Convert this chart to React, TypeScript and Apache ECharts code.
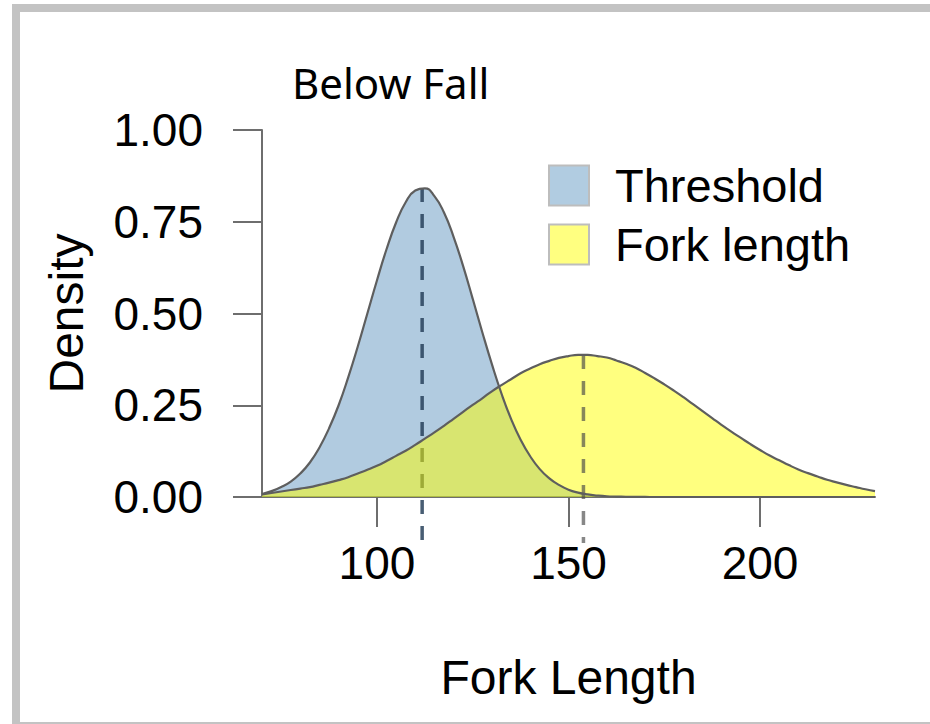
import React, { useEffect, useRef } from "react";
import * as echarts from "echarts";

const titleText = "Below Fall";
const xName = "Fork Length";
const yName = "Density";
const seriesNames = ["Threshold", "Fork length"];

const xValues = [
  70, 72.5, 75, 77.5, 80, 82.5, 85, 87.5, 90, 92.5, 95, 97.5, 100, 102.5, 105, 107.5,
  110, 112.5, 115, 117.5, 120, 122.5, 125, 127.5, 130, 132.5, 135, 137.5, 140, 142.5,
  145, 147.5, 150, 152.5, 155, 157.5, 160, 162.5, 165, 167.5, 170, 172.5, 175, 177.5,
  180, 182.5, 185, 187.5, 190, 192.5, 195, 197.5, 200, 202.5, 205, 207.5, 210, 212.5,
  215, 217.5, 220, 222.5, 225, 227.5, 230,
];

const thresholdValues = [
  0.008, 0.016, 0.027, 0.042, 0.064, 0.094, 0.135, 0.187, 0.25, 0.326, 0.41, 0.5,
  0.59, 0.675, 0.748, 0.803, 0.835, 0.841, 0.82, 0.775, 0.709, 0.629, 0.54, 0.449,
  0.362, 0.282, 0.213, 0.156, 0.111, 0.076, 0.051, 0.033, 0.02, 0.012, 0.007, 0.004,
  0.002, 0.0012, 0.0006, 0.0003, 0.0001, 0, 0, 0, 0, 0, 0, 0, 0, 0, 0, 0, 0, 0, 0, 0,
  0, 0, 0, 0, 0, 0, 0, 0, 0,
];

const forkValues = [
  0.007, 0.011, 0.015, 0.019, 0.023, 0.027, 0.033, 0.039, 0.046, 0.054, 0.064, 0.074,
  0.085, 0.098, 0.112, 0.126, 0.142, 0.159, 0.176, 0.194, 0.213, 0.232, 0.251, 0.269,
  0.288, 0.305, 0.321, 0.337, 0.35, 0.362, 0.371, 0.379, 0.384, 0.387, 0.387, 0.384,
  0.38, 0.372, 0.363, 0.352, 0.338, 0.323, 0.307, 0.29, 0.272, 0.253, 0.234, 0.215,
  0.196, 0.178, 0.161, 0.144, 0.128, 0.113, 0.1, 0.087, 0.075, 0.065, 0.056, 0.047,
  0.04, 0.033, 0.027, 0.021, 0.016,
];

const peakX = [111.8, 153.9];
const peakY = [0.842, 0.387];

const xTicks = [100, 150, 200];
const yTicks = [0, 0.25, 0.5, 0.75, 1];

const FONT = "'Liberation Sans', Arial, sans-serif";

export default function App() {
  const ref = useRef<HTMLDivElement>(null);

  useEffect(() => {
    if (!ref.current) return;
    const chart = echarts.init(ref.current, null, { renderer: "svg" });

    const tData = xValues.map((x, i) => [x, thresholdValues[i]]);
    const fData = xValues.map((x, i) => [x, forkValues[i]]);

    const dashSeries = (idx: number, color: string) => ({
      type: "custom",
      silent: true,
      clip: false,
      encode: { x: 0, y: 1 },
      data: [[peakX[idx], peakY[idx]]],
      renderItem: (params: any, api: any) => {
        const top = api.coord([api.value(0), api.value(1)]);
        const base = api.coord([api.value(0), 0]);
        return {
          type: "line",
          shape: { x1: top[0], y1: top[1], x2: base[0], y2: base[1] + 46 },
          style: { stroke: color, lineWidth: 3.5, lineDash: [14, 12], fill: null },
        };
      },
    });

    chart.setOption({
      animation: false,
      backgroundColor: "#ffffff",
      title: {
        text: titleText,
        left: 292,
        top: 61,
        padding: 0,
        textStyle: {
          fontFamily: "'Noto Sans', sans-serif",
          fontSize: 42,
          fontWeight: "normal",
          color: "#000",
        },
      },
      graphic: [
        {
          type: "rect",
          z: -10,
          silent: true,
          shape: { x: 16, y: 8, width: 940, height: 718 },
          style: { fill: "none", stroke: "#c3c3c3", lineWidth: 8 },
        },
      ],
      legend: {
        orient: "vertical",
        left: 548,
        top: 162,
        padding: 0,
        itemWidth: 40,
        itemHeight: 40,
        itemGap: 12,
        selectedMode: false,
        textStyle: {
          fontFamily: FONT,
          fontSize: 47,
          color: "#000",
          padding: [0, 0, 0, 21],
        },
        data: [
          {
            name: seriesNames[0],
            icon: "rect",
            itemStyle: { color: "#b1cce1", borderColor: "#bdbdbd", borderWidth: 2 },
          },
          {
            name: seriesNames[1],
            icon: "rect",
            itemStyle: { color: "#ffff80", borderColor: "#bdbdbd", borderWidth: 2 },
          },
        ],
      },
      grid: { left: 262, right: 55, top: 130, bottom: 227, containLabel: false },
      xAxis: {
        type: "value",
        min: 70,
        max: 230,
        name: xName,
        nameLocation: "middle",
        nameGap: 156,
        nameTextStyle: { fontFamily: FONT, fontSize: 48, color: "#000" },
        axisLine: { show: true, onZero: false, lineStyle: { color: "#6e6e6e", width: 2 } },
        axisTick: {
          show: true,
          length: 30,
          customValues: xTicks,
          lineStyle: { color: "#6e6e6e", width: 2 },
        },
        axisLabel: {
          customValues: xTicks,
          margin: 43,
          fontFamily: FONT,
          fontSize: 46,
          color: "#000",
        },
        splitLine: { show: false },
      },
      yAxis: {
        type: "value",
        min: 0,
        max: 1,
        interval: 0.25,
        name: yName,
        nameLocation: "middle",
        nameRotate: 90,
        nameGap: 172,
        nameTextStyle: { fontFamily: FONT, fontSize: 48, color: "#000" },
        axisLine: { show: true, lineStyle: { color: "#6e6e6e", width: 2 } },
        axisTick: {
          show: true,
          length: 29,
          customValues: yTicks,
          lineStyle: { color: "#6e6e6e", width: 2 },
        },
        axisLabel: {
          customValues: yTicks,
          margin: 59,
          fontFamily: FONT,
          fontSize: 46,
          color: "#000",
          formatter: (v: number) => v.toFixed(2),
        },
        splitLine: { show: false },
      },
      series: [
        {
          name: seriesNames[0],
          type: "line",
          data: tData,
          smooth: true,
          showSymbol: false,
          symbol: "none",
          color: "#b1cce1",
          lineStyle: { color: "#5e5e5e", width: 2.2 },
          areaStyle: { color: "rgba(70,130,180,0.42)", opacity: 1 },
          z: 2,
        },
        dashSeries(0, "rgba(40,65,90,0.85)"),
        {
          name: seriesNames[1],
          type: "line",
          data: fData,
          smooth: true,
          showSymbol: false,
          symbol: "none",
          color: "#ffff80",
          lineStyle: { color: "#5e5e5e", width: 2.2 },
          areaStyle: { color: "rgba(255,255,0,0.5)", opacity: 1 },
          z: 2,
        },
        dashSeries(1, "rgba(70,70,70,0.65)"),
      ],
    });

    return () => chart.dispose();
  }, []);

  return (
    <div
      ref={ref}
      style={{ position: "absolute", left: 0, top: 0, width: 930, height: 724 }}
    />
  );
}
